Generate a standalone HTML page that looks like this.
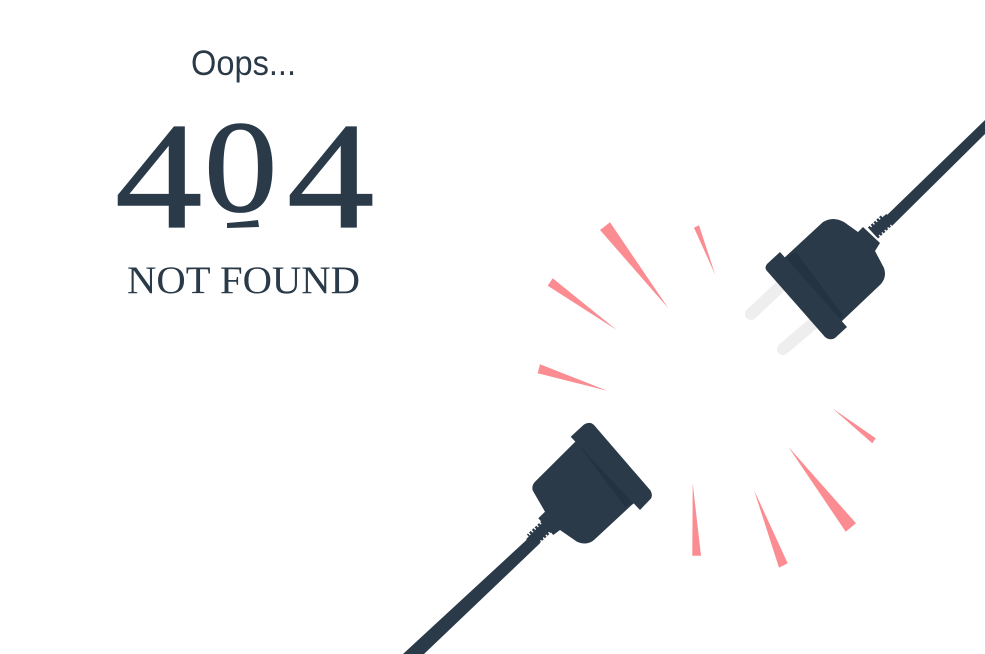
<!DOCTYPE html>
<html lang="en">
<head>
<meta charset="utf-8">
<title>404 Not Found</title>
<style>
html,body{margin:0;padding:0;background:#fff;}
body{width:985px;height:654px;overflow:hidden;}
svg{display:block;}
</style>
</head>
<body>
<svg width="985" height="654" viewBox="0 0 985 654" xmlns="http://www.w3.org/2000/svg">
  <rect width="985" height="654" fill="#ffffff"/>

  <g fill="#2a3a48">
    <text x="191" y="75" font-family="'Liberation Sans',sans-serif" font-size="35" textLength="105" lengthAdjust="spacingAndGlyphs">Oops...</text>
    <g font-family="'Liberation Serif',serif" stroke="#2a3a48" stroke-width="1.2">
      <text transform="translate(115 227) scale(1.15 1)" font-size="152">4</text>
      <text transform="translate(204 211) scale(1.12 1)" font-size="131">0</text>
      <text transform="translate(287 227) scale(1.15 1)" font-size="152">4</text>
    </g>
    <path d="M227 223 Q240 222 258 220 L259 227 L227 228 Z"/>
    <text x="127" y="293" font-family="'Liberation Serif',serif" font-size="39" textLength="233" lengthAdjust="spacingAndGlyphs">NOT FOUND</text>
  </g>

  <g fill="#fb8d92">
    <polygon points="600,230 610,222.3 668.3,308.3"/>
    <polygon points="694,227.7 699,225.3 715.3,275"/>
    <polygon points="547.7,285.7 552.7,278.3 616.7,330"/>
    <polygon points="537.7,373.3 540,364.3 607.3,390.7"/>
    <polygon points="832.3,408.3 875.7,438.3 872.3,443.3"/>
    <polygon points="788.3,446.7 856,523.3 845.7,531.7"/>
    <polygon points="754,490 787.7,563.3 779,567.7"/>
    <polygon points="692.7,483.3 701,555.7 692.3,555.7"/>
  </g>

  <g>
    <g stroke="#eeeeee" stroke-width="12" stroke-linecap="round">
      <line x1="785" y1="282" x2="751" y2="314"/>
      <line x1="815" y1="322" x2="783" y2="349"/>
    </g>
    <polygon points="985,120 985,134 892,226 886,216" fill="#2a3a48"/>
    <line x1="873" y1="233" x2="887" y2="220" stroke="#2a3a48" stroke-width="15" stroke-dasharray="2.4 1.4"/>
    <line x1="873" y1="233" x2="890" y2="218" stroke="#2a3a48" stroke-width="11"/>
    <path d="M783 259 L823 222 Q833 216 844 222 L858 232 L863 227 L880 243 L875 251 L884 268 Q887 277 881 284 L842 321 L838 326 Z" fill="#2a3a48"/>
    <polygon points="786,258 796,252 842,314 841,320" fill="#243341"/>
    <path d="M780 252 L767 264 Q764 268 767 271 L825 337 Q830 341 835 338 L847 327 Z" fill="#2a3a48"/>
  </g>

  <g>
    <polygon points="530,536.7 403,654 424,654 540,543.3" fill="#2a3a48"/>
    <line x1="547" y1="526" x2="532" y2="540" stroke="#2a3a48" stroke-width="15" stroke-dasharray="2.4 1.4"/>
    <line x1="547" y1="526" x2="530" y2="543" stroke="#2a3a48" stroke-width="11"/>
    <path d="M576 441 L535 481.7 Q531 486 533 491 L545 511.7 L538.3 518.3 L553.3 535 L560 530 L577 541.7 Q587 546 594 540 L631.7 505 L637 501 Z" fill="#2a3a48"/>
    <polygon points="576,442 633,503 625,507" fill="#243341"/>
    <path d="M570.7 436.7 L584 424.5 Q590 421 594 425 L650.5 490.5 Q653 495 651 498.5 L640 510 Z" fill="#2a3a48"/>
  </g>
</svg>
</body>
</html>
